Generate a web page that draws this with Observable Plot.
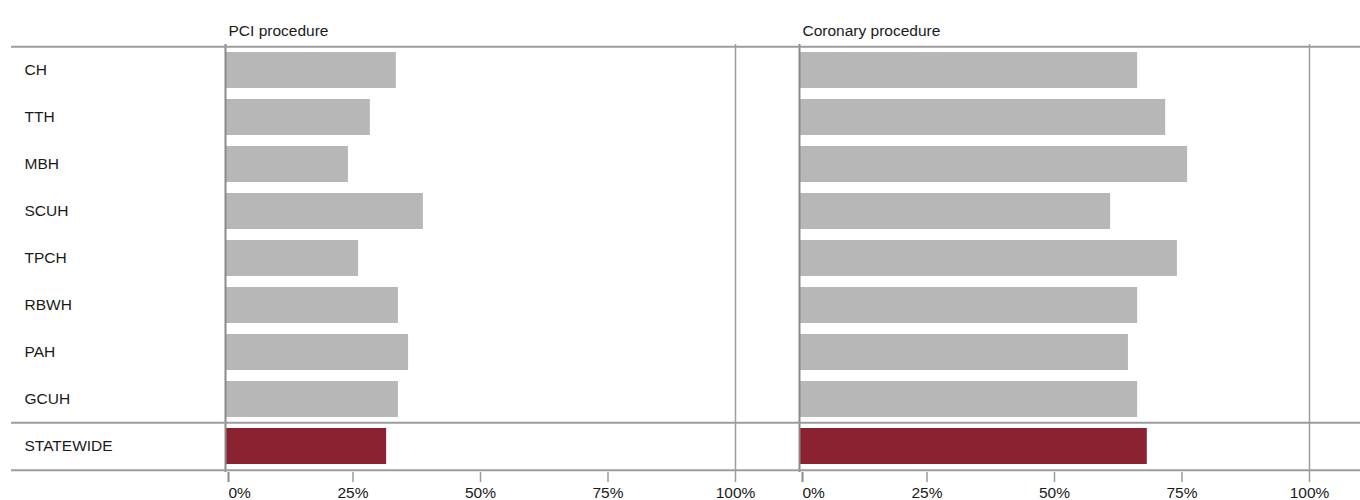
<!DOCTYPE html>
<html><head><meta charset="utf-8">
<script src="https://cdn.jsdelivr.net/npm/d3@7"></script>
<script src="https://cdn.jsdelivr.net/npm/@observablehq/plot@0.6"></script>
<style>body{margin:0;background:#fff;}</style>
</head><body><div id="chart"></div>
<script>
const hospitals = ["CH","TTH","MBH","SCUH","TPCH","RBWH","PAH","GCUH","STATEWIDE"];
const panels = ["PCI procedure","Coronary procedure"];
const pciValues = [33.5,28.4,24.1,38.8,26.1,33.9,35.9,33.9,31.6];
const coronaryValues = [66.3,71.8,76.1,61.0,74.1,66.3,64.5,66.3,68.2];
const xTicks = [0,25,50,75,100];

const rows = [];
hospitals.forEach((h,i)=>{
  rows.push({panel: panels[0], name: h, value: pciValues[i]});
  rows.push({panel: panels[1], name: h, value: coronaryValues[i]});
});

const W = 1360, H = 500, mt = 44, mb = 28, ml = 225, mr = 51, gap = 64, lineStart = 11;
const step = (H - mt - mb) / hospitals.length;
const innerW = W - ml - mr;
const fxPad = gap / ((innerW + gap) / 2);
const lineColor = "#9c9c9c";
const gray = "#b7b7b7", red = "#8b2232";
const fmt = d => d + "%";

const hRule = (ys, panel, dy, insetLeft, insetRight) =>
  Plot.ruleY(ys, {y: d => d, fx: () => panel, dy, insetLeft, insetRight, stroke: lineColor, strokeWidth: 2});

const chart = Plot.plot({
  width: W, height: H,
  marginTop: mt, marginBottom: mb, marginLeft: ml, marginRight: mr,
  style: {fontFamily: "'Liberation Sans', Arial, sans-serif", fontSize: "15.5px", color: "#1a1a1a", background: "#fff"},
  fx: {domain: panels, paddingInner: fxPad, paddingOuter: 0, axis: null, label: null},
  y: {domain: hospitals, paddingInner: 0.24, paddingOuter: 0.12, axis: null, label: null},
  x: {domain: [0, 100], axis: null, label: null},
  marks: [
    Plot.barX(rows, {x: "value", y: "name", fx: "panel", fill: d => d.name === "STATEWIDE" ? red : gray, insetLeft: 1}),
    Plot.ruleX(xTicks.filter(t => t === 0), {x: d => d, stroke: "#8a8a8a", strokeWidth: 2}),
    Plot.ruleX(xTicks.filter(t => t === 100), {x: d => d, stroke: lineColor, strokeWidth: 1.5}),
    hRule(["CH", "STATEWIDE"], panels[0], -step/2, -(ml - lineStart), -gap/2),
    hRule(["STATEWIDE"], panels[0], step/2, -(ml - lineStart), -gap/2),
    hRule(["CH", "STATEWIDE"], panels[1], -step/2, -gap/2, -mr),
    hRule(["STATEWIDE"], panels[1], step/2, -gap/2, -mr),
    Plot.axisX({ticks: xTicks.filter(t => t > 0), tickFormat: fmt, tickSize: 10, tickPadding: 4, stroke: lineColor, strokeWidth: 1.5, label: null}),
    Plot.axisX({ticks: xTicks.filter(t => t === 0), tickFormat: fmt, tickSize: 10, tickPadding: 4, textAnchor: "start", dx: 3, stroke: "#8a8a8a", strokeWidth: 2, label: null}),
    Plot.axisY({tickSize: 0, tickPadding: 0, textAnchor: "start", dx: lineStart + 13 - ml, label: null}),
    Plot.text(panels, {fx: d => d, text: d => d, frameAnchor: "top-left", textAnchor: "start", dx: 3, dy: -20, fill: "#1a1a1a"})
  ]
});
document.getElementById("chart").appendChild(chart);
</script>
</body></html>
